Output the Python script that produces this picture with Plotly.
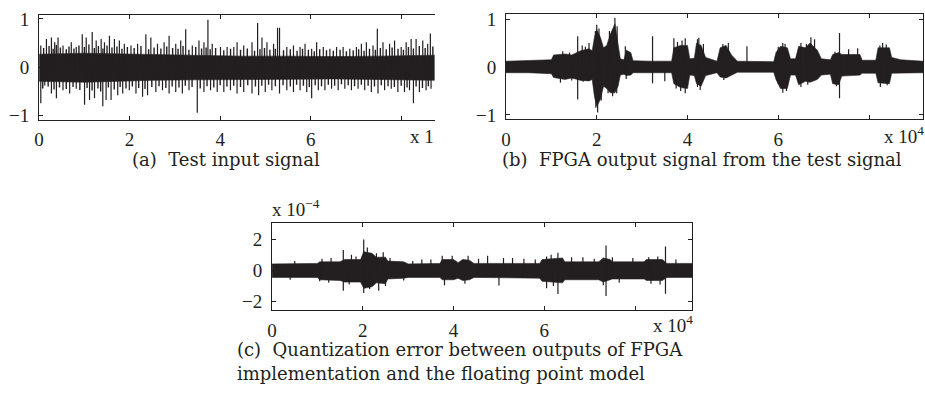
import plotly.graph_objects as go

# ---------------- data (x in units of 1e4 samples) ----------------
# (a) test input signal: core band + spikes
a_band_x = [0.0, 1.0, 1.6, 2.5, 3.5, 4.5, 5.5, 6.5, 7.5, 8.74]
a_band_hi = [0.27, 0.29, 0.28, 0.26, 0.25, 0.23, 0.23, 0.22, 0.23, 0.25]
a_band_lo = [-0.29, -0.31, -0.30, -0.27, -0.26, -0.25, -0.25, -0.24, -0.25, -0.27]
a_up_x = [0.037, 0.162, 0.272, 0.345, 0.418, 0.528, 0.711, 0.821, 0.953, 1.041, 1.173, 1.261, 1.371,
          1.444, 1.554, 1.664, 1.773, 1.883, 2.03, 2.176, 2.359, 2.469, 2.616, 2.762, 2.872, 3.019,
          3.129, 3.239, 3.385, 3.532, 3.642, 3.73, 3.825, 4.008, 4.154, 4.301, 4.374, 4.521, 4.704,
          4.828, 4.924, 5.034, 5.18, 5.268, 5.312, 5.473, 5.62, 5.766, 5.876, 6.022, 6.132, 6.279,
          6.425, 6.572, 6.718, 6.865, 7.011, 7.121, 7.231, 7.378, 7.473, 7.598, 7.744, 7.854, 8.0,
          8.11, 8.22, 8.33, 8.477, 8.586, 8.645]
a_up_y = [0.45, 0.584, 0.617, 0.518, 0.617, 0.45, 0.518, 0.418, 0.683, 0.617, 0.73, 0.551, 0.584,
          0.518, 0.65, 0.584, 0.551, 0.484, 0.45, 0.484, 0.683, 0.617, 0.484, 0.518, 0.65, 0.484,
          0.551, 0.783, 0.45, 0.551, 0.518, 0.981, 0.484, 0.418, 0.418, 0.418, 0.518, 0.45, 0.518,
          0.915, 0.617, 0.518, 0.484, 0.816, 0.816, 0.418, 0.45, 0.418, 0.484, 0.385, 0.518, 0.418,
          0.385, 0.418, 0.418, 0.385, 0.418, 0.484, 0.518, 0.45, 0.796, 0.518, 0.484, 0.551, 0.418,
          0.518, 0.584, 0.584, 0.551, 0.484, 0.696]
a_up2_x = [0.1, 0.22, 0.31, 0.38, 0.47, 0.6, 0.66, 0.77, 0.88, 1.0, 1.1, 1.22, 1.31, 1.41, 1.5,
           1.61, 1.72, 1.83, 1.95, 2.1, 2.25, 2.42, 2.54, 2.69, 2.82, 2.95, 3.07, 3.18, 3.31, 3.46,
           3.59, 3.69, 3.78, 3.9, 4.08, 4.23, 4.45, 4.6, 4.76, 4.88, 4.98, 5.1, 5.22, 5.4, 5.55,
           5.7, 5.82, 5.95, 6.08, 6.2, 6.35, 6.5, 6.65, 6.79, 6.94, 7.06, 7.18, 7.3, 7.43, 7.54,
           7.67, 7.8, 7.93, 8.05, 8.16, 8.27, 8.4, 8.53, 8.7]
a_up2_y = [0.40, 0.44, 0.38, 0.46, 0.41, 0.37, 0.43, 0.39, 0.45, 0.42, 0.47, 0.40, 0.44, 0.39,
           0.45, 0.41, 0.43, 0.38, 0.42, 0.40, 0.44, 0.37, 0.41, 0.39, 0.43, 0.40, 0.38, 0.44, 0.36,
           0.42, 0.39, 0.41, 0.37, 0.40, 0.35, 0.38, 0.36, 0.39, 0.34, 0.37, 0.40, 0.36, 0.38, 0.35,
           0.37, 0.34, 0.38, 0.36, 0.33, 0.37, 0.35, 0.34, 0.36, 0.33, 0.35, 0.37, 0.34, 0.38, 0.36,
           0.40, 0.37, 0.41, 0.38, 0.36, 0.42, 0.39, 0.44, 0.40, 0.43]
a_dn_x = [0.037, 0.125, 0.272, 0.382, 0.528, 0.675, 0.821, 1.004, 1.114, 1.224, 1.407, 1.48, 1.59,
          1.737, 1.847, 1.993, 2.14, 2.286, 2.396, 2.579, 2.726, 2.872, 3.019, 3.165, 3.312, 3.495,
          3.642, 3.788, 3.935, 4.081, 4.228, 4.374, 4.521, 4.704, 4.85, 4.997, 5.143, 5.312, 5.473,
          5.62, 5.766, 5.913, 6.022, 6.169, 6.315, 6.462, 6.608, 6.755, 6.901, 7.048, 7.194, 7.341,
          7.488, 7.634, 7.781, 7.927, 8.073, 8.184, 8.271, 8.403, 8.55, 8.66]
a_dn_y = [-0.742, -0.377, -0.543, -0.642, -0.477, -0.543, -0.443, -0.775, -0.675, -0.642, -0.808,
          -0.675, -0.675, -0.576, -0.543, -0.477, -0.543, -0.609, -0.576, -0.51, -0.477, -0.543,
          -0.51, -0.543, -0.477, -0.94, -0.51, -0.477, -0.51, -0.51, -0.477, -0.543, -0.51, -0.543,
          -0.576, -0.51, -0.477, -0.543, -0.477, -0.51, -0.477, -0.51, -0.642, -0.477, -0.477,
          -0.443, -0.477, -0.443, -0.477, -0.443, -0.477, -0.51, -0.543, -0.477, -0.443, -0.51,
          -0.51, -0.477, -0.742, -0.51, -0.477, -0.443]
a_dn2_x = [0.08, 0.2, 0.33, 0.45, 0.6, 0.75, 0.9, 1.06, 1.17, 1.3, 1.36, 1.53, 1.66, 1.79, 1.92,
           2.06, 2.2, 2.34, 2.49, 2.65, 2.8, 2.94, 3.09, 3.23, 3.38, 3.56, 3.71, 3.86, 4.0, 4.15,
           4.3, 4.45, 4.61, 4.78, 4.92, 5.07, 5.22, 5.39, 5.55, 5.69, 5.84, 5.97, 6.1, 6.24, 6.39,
           6.53, 6.68, 6.83, 6.97, 7.12, 7.27, 7.41, 7.56, 7.71, 7.85, 8.0, 8.13, 8.33, 8.47, 8.6]
a_dn2_y = [-0.44, -0.40, -0.46, -0.42, -0.45, -0.41, -0.47, -0.43, -0.48, -0.44, -0.50, -0.42,
           -0.46, -0.41, -0.44, -0.40, -0.43, -0.45, -0.41, -0.39, -0.43, -0.40, -0.42, -0.38,
           -0.41, -0.44, -0.39, -0.42, -0.37, -0.40, -0.38, -0.41, -0.37, -0.40, -0.38, -0.36,
           -0.39, -0.37, -0.40, -0.36, -0.38, -0.41, -0.37, -0.39, -0.36, -0.38, -0.35, -0.37,
           -0.39, -0.36, -0.38, -0.40, -0.37, -0.39, -0.41, -0.38, -0.42, -0.40, -0.43, -0.39]

# (b) FPGA output signal: envelope + spikes
b_env_x = [0.0, 0.5, 1.0, 1.05, 1.3, 1.45, 1.55, 1.65, 1.83, 1.9, 1.95, 2.0, 2.08, 2.15, 2.22, 2.3,
           2.4, 2.47, 2.52, 2.6, 2.65, 2.75, 2.8, 3.2, 3.65, 3.7, 3.85, 4.0, 4.05, 4.15, 4.2, 4.3,
           4.4, 4.65, 4.72, 4.85, 4.97, 5.1, 5.9, 5.95, 6.05, 6.2, 6.27, 6.38, 6.45, 6.6, 6.7, 6.86,
           6.95, 7.15, 7.2, 7.33, 7.4, 7.8, 7.85, 8.15, 8.2, 8.45, 8.5, 8.7, 9.19]
b_env_hi = [0.12, 0.13, 0.15, 0.25, 0.27, 0.25, 0.3, 0.34, 0.38, 0.34, 0.62, 0.78, 0.62, 0.4, 0.45,
            0.68, 0.9, 0.52, 0.17, 0.15, 0.35, 0.3, 0.13, 0.12, 0.12, 0.4, 0.45, 0.45, 0.17, 0.18,
            0.5, 0.45, 0.2, 0.12, 0.4, 0.45, 0.25, 0.12, 0.11, 0.3, 0.43, 0.4, 0.17, 0.17, 0.43,
            0.4, 0.5, 0.35, 0.17, 0.15, 0.26, 0.3, 0.26, 0.26, 0.14, 0.14, 0.4, 0.4, 0.2, 0.15,
            0.12]
b_env_lo = [-0.12, -0.12, -0.14, -0.22, -0.26, -0.23, -0.26, -0.28, -0.29, -0.26, -0.62, -0.82,
            -0.68, -0.4, -0.45, -0.54, -0.54, -0.4, -0.17, -0.15, -0.18, -0.17, -0.12, -0.12,
            -0.12, -0.35, -0.43, -0.45, -0.17, -0.18, -0.35, -0.4, -0.18, -0.12, -0.21, -0.23,
            -0.17, -0.11, -0.11, -0.26, -0.45, -0.45, -0.17, -0.17, -0.37, -0.3, -0.32, -0.26,
            -0.17, -0.15, -0.35, -0.37, -0.19, -0.17, -0.13, -0.13, -0.33, -0.35, -0.13, -0.12,
            -0.12]
b_sp_x = [1.25, 1.58, 1.68, 1.83, 2.0, 2.4, 2.63, 3.23, 3.7, 3.95, 4.25, 5.31, 6.1, 6.72, 7.35,
          7.55, 7.75, 8.3, 1.2, 1.58, 2.02, 2.1, 2.35, 2.65, 3.23, 3.5, 3.95, 4.28, 6.1, 7.35, 8.25,
          1.4, 1.75, 1.97, 2.05, 2.28, 2.45, 3.78, 3.88, 4.22, 4.35, 4.78, 4.9, 6.0, 6.15, 6.5,
          6.62, 6.8, 7.25, 8.24, 8.38,
          1.45, 1.7, 1.98, 2.25, 2.44, 3.75, 3.85, 4.22, 4.8, 6.0, 6.18, 6.5, 6.65, 7.28, 8.4]
b_sp_y = [0.33, 0.64, 0.45, 0.5, 0.88, 1.02, 0.43, 0.64, 0.6, 0.6, 0.61, 0.43, 0.5, 0.62, 0.71,
          0.37, 0.39, 0.5, -0.33, -0.68, -0.95, -0.7, -0.61, -0.25, -0.34, -0.3, -0.55, -0.48,
          -0.54, -0.65, -0.42,
          0.3, 0.42, 0.75, 0.8, 0.75, 0.85, 0.52, 0.55, 0.58, 0.48, 0.48, 0.5, 0.42, 0.48, 0.5,
          0.48, 0.58, 0.32, 0.45, 0.47,
          -0.28, -0.31, -0.85, -0.55, -0.55, -0.45, -0.5, -0.42, -0.27, -0.35, -0.5, -0.42, -0.37,
          -0.4, -0.38]

# (c) quantization error (units of 1e-4): envelope + spikes
c_env_x = [0.0, 1.0, 1.05, 1.5, 1.6, 1.95, 2.02, 2.2, 2.3, 2.5, 2.55, 2.9, 3.0, 3.7, 3.75, 4.0, 4.1,
           4.2, 4.35, 4.45, 5.9, 5.95, 6.4, 6.45, 7.2, 7.3, 7.45, 7.5, 8.2, 8.25, 8.6, 8.7, 9.26]
c_env_hi = [0.42, 0.45, 0.55, 0.55, 0.7, 0.7, 1.2, 1.1, 0.85, 0.85, 0.6, 0.55, 0.42, 0.45, 0.7, 0.7,
            0.5, 0.7, 0.65, 0.45, 0.45, 0.7, 0.8, 0.55, 0.55, 0.8, 0.7, 0.55, 0.55, 0.7, 0.7, 0.45,
            0.45]
c_env_lo = [-0.45, -0.45, -0.6, -0.65, -0.75, -0.75, -1.15, -1.05, -0.8, -0.85, -0.55, -0.5, -0.45,
            -0.45, -0.6, -0.6, -0.5, -0.65, -0.6, -0.45, -0.5, -0.7, -0.8, -0.6, -0.6, -0.75, -0.6,
            -0.55, -0.55, -0.65, -0.65, -0.45, -0.45]
c_sp_x = [1.1, 1.57, 1.75, 2.02, 2.1, 2.3, 2.45, 3.3, 3.5, 3.75, 3.97, 4.32, 4.75, 5.1, 5.3, 5.55,
          6.15, 6.3, 6.6, 6.85, 7.36, 7.95, 8.67, 8.9, 0.5, 1.3, 1.85, 2.6, 3.1, 4.55, 5.8, 6.05,
          7.1, 7.5, 8.3, 8.5,
          1.05, 1.25, 1.57, 2.02, 2.35, 2.5, 3.8, 5.0, 6.05, 6.3, 7.36, 7.65, 8.67, 0.4, 1.7, 2.15,
          2.9, 4.25, 6.2, 7.3, 8.35, 8.55]
c_sp_y = [0.75, 1.32, 1.0, 1.98, 1.47, 1.1, 1.16, 0.7, 0.7, 0.95, 0.95, 0.95, 0.95, 0.8, 0.8, 0.75,
          1.0, 1.13, 0.85, 0.85, 1.6, 0.8, 1.53, 0.7, 0.6, 0.8, 0.9, 0.8, 0.6, 0.75, 0.7, 0.9,
          0.75, 0.85, 0.85, 0.9,
          -0.7, -0.8, -1.3, -1.45, -1.3, -1.0, -0.95, -0.97, -1.15, -1.52, -1.65, -0.8, -1.5, -0.6,
          -0.9, -1.2, -0.65, -0.85, -1.0, -0.95, -0.85, -0.9]

x_tickvals = [0, 2, 4, 6]
x_ticktext = ["0", "2", "4", "6"]
x_minor_tickvals = [8]
captions = ["(a)  Test input signal", "(b)  FPGA output signal from the test signal",
            "(c)  Quantization error between outputs of FPGA",
            "implementation and the floating point model"]

# ---------------- figure ----------------
INK = "#231f20"
W, H = 925, 404
fig = go.Figure()


def band(xs, hi, lo, xa, ya):
    fig.add_trace(go.Scatter(x=list(xs) + list(xs)[::-1], y=list(hi) + list(lo)[::-1],
                             fill="toself", fillcolor=INK, mode="lines",
                             line=dict(color=INK, width=0.6), xaxis=xa, yaxis=ya,
                             hoverinfo="skip", showlegend=False))


def spikes(xs, ys, xa, ya, w=1.2):
    px, py = [], []
    for x, y in zip(xs, ys):
        px += [x, x, None]
        py += [0, y, None]
    fig.add_trace(go.Scatter(x=px, y=py, mode="lines", line=dict(color=INK, width=w),
                             xaxis=xa, yaxis=ya, hoverinfo="skip", showlegend=False))


band(a_band_x, a_band_hi, a_band_lo, "x", "y")
spikes(a_up2_x, a_up2_y, "x", "y", 1.4)
spikes(a_dn2_x, a_dn2_y, "x", "y", 1.4)
spikes(a_up_x, a_up_y, "x", "y")
spikes(a_dn_x, a_dn_y, "x", "y")
band(b_env_x, b_env_hi, b_env_lo, "x2", "y2")
spikes(b_sp_x, b_sp_y, "x2", "y2")
band(c_env_x, c_env_hi, c_env_lo, "x3", "y3")
spikes(c_sp_x, c_sp_y, "x3", "y3")

TICKFONT = dict(family="Liberation Serif", size=19, color=INK)


def xax(dom, rng, anchor, mirror):
    return dict(domain=[dom[0] / W, dom[1] / W], range=rng, anchor=anchor, tickmode="array",
                tickvals=x_tickvals, ticktext=x_ticktext, ticks="inside", ticklen=4,
                tickcolor=INK, showline=True, linecolor=INK, linewidth=1, mirror=mirror,
                showgrid=False, zeroline=False, tickfont=TICKFONT, ticklabelstandoff=3,
                minor=dict(tickmode="array", tickvals=x_minor_tickvals, ticks="inside",
                           ticklen=4, tickcolor=INK, showgrid=False))


def yax(dom, rng, anchor, vals, texts, mirror):
    return dict(domain=[1 - dom[1] / H, 1 - dom[0] / H], range=rng, anchor=anchor,
                tickmode="array", tickvals=vals, ticktext=texts, ticks="inside", ticklen=4,
                tickcolor=INK, showline=True, linecolor=INK, linewidth=1, mirror=mirror,
                showgrid=False, zeroline=False, tickfont=TICKFONT, ticklabelstandoff=5)


fig.update_layout(
    width=W, height=H, margin=dict(l=0, r=0, t=0, b=0),
    paper_bgcolor="white", plot_bgcolor="white",
    xaxis=xax((34.3, 432), [0, 8.74], "y", "ticks"),
    yaxis=yax((9.3, 117.3), [-1.08, 1.08], "x", [-1, 0, 1], ["−1", "0", "1"], False),
    xaxis2=xax((503.7, 923), [0, 9.19], "y2", "ticks"),
    yaxis2=yax((8.5, 116.5), [-1.08, 1.1], "x2", [-1, 0, 1], ["−1", "0", "1"], "ticks"),
    xaxis3=xax((268.5, 691), [0, 9.26], "y3", "ticks"),
    yaxis3=yax((224.5, 314.2), [-2.55, 3.03], "x3", [-2, 0, 2], ["−2", "0", "2"], "ticks"),
)

CAPFONT = dict(family="DejaVu Serif", size=18, color=INK)
ann = [
    dict(text="x 1", x=433 / W, y=1 - 135 / H, xanchor="right", yanchor="middle", font=TICKFONT),
    dict(text="x 10<sup>4</sup>", x=926 / W, y=1 - 133 / H, xanchor="right", yanchor="middle",
         font=TICKFONT),
    dict(text="x 10<sup>−4</sup>", x=266 / W, y=1 - 209 / H, xanchor="left", yanchor="middle",
         font=TICKFONT),
    dict(text="x 10<sup>4</sup>", x=694 / W, y=1 - 329 / H, xanchor="right", yanchor="middle",
         font=TICKFONT),
    dict(text=captions[0], x=222 / W, y=1 - 159 / H, xanchor="center", yanchor="middle",
         font=CAPFONT),
    dict(text=captions[1], x=701 / W, y=1 - 159 / H, xanchor="center", yanchor="middle",
         font=CAPFONT),
    dict(text=captions[2], x=231 / W, y=1 - 355 / H, xanchor="left", yanchor="middle",
         font=CAPFONT),
    dict(text=captions[3], x=231 / W, y=1 - 380 / H, xanchor="left", yanchor="middle",
         font=CAPFONT),
]
for a in ann:
    a.update(xref="paper", yref="paper", showarrow=False)
fig.update_layout(annotations=ann)

fig.write_html("out.html")
